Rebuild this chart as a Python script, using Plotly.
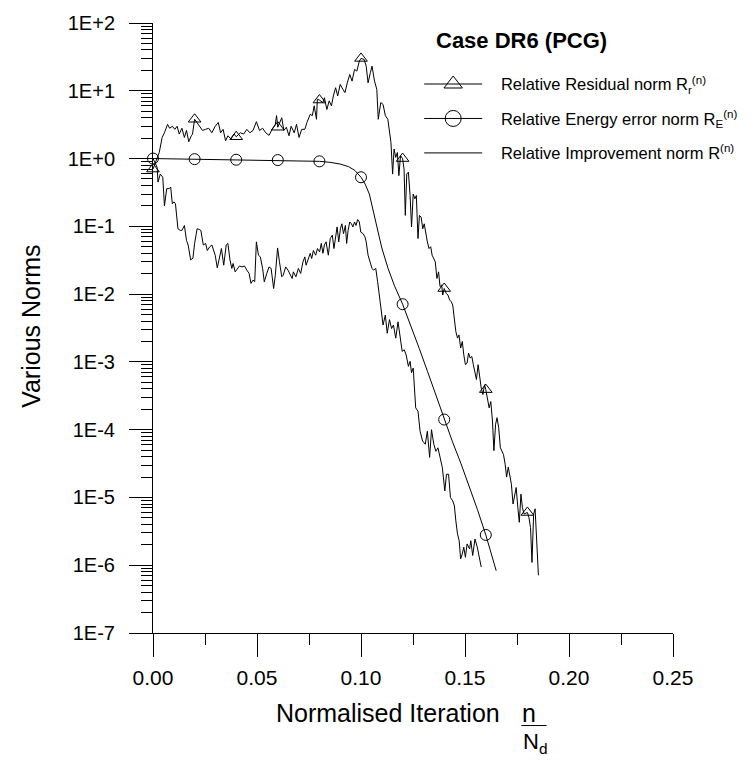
import plotly.graph_objects as go

# ---------------- data ----------------
res_x = [0.000, 0.003, 0.0044, 0.0055, 0.007, 0.008, 0.0093, 0.0105, 0.0116, 0.0126, 0.0139, 0.0151, 0.0161, 0.0172,
         0.0184, 0.019, 0.020, 0.0222, 0.0238, 0.0253, 0.0268, 0.0283, 0.0299, 0.0314, 0.0325, 0.0337, 0.0349, 0.036,
         0.0375, 0.039, 0.040, 0.042, 0.0436, 0.0451, 0.0466, 0.0481, 0.0497, 0.0512, 0.0527, 0.0542, 0.0558, 0.0573,
         0.0588, 0.0594, 0.060, 0.0619, 0.0629, 0.0641, 0.0654, 0.0664, 0.0679, 0.069, 0.0702, 0.0715, 0.073, 0.074,
         0.0756, 0.0766, 0.0775, 0.0786, 0.079, 0.080, 0.0817, 0.0824, 0.0836, 0.0847, 0.0858, 0.0867, 0.0878, 0.0888,
         0.090, 0.0913, 0.0923, 0.0934, 0.0946, 0.0957, 0.0969, 0.098, 0.0992, 0.100, 0.1015, 0.1025, 0.1034, 0.1045,
         0.1053, 0.1065, 0.1076, 0.1083, 0.1095, 0.1106, 0.1117, 0.1129, 0.1137, 0.1144, 0.1152, 0.1159, 0.1167, 0.1175,
         0.1182, 0.119, 0.120, 0.1207, 0.1213, 0.122, 0.1228, 0.1236, 0.1243, 0.1251, 0.1259, 0.1266, 0.1274, 0.1281,
         0.1289, 0.1297, 0.1304, 0.1312, 0.1319, 0.1327, 0.1335, 0.1342, 0.135, 0.1357, 0.1365, 0.1373, 0.138, 0.1388,
         0.1393, 0.140, 0.141, 0.1418, 0.1426, 0.1433, 0.1441, 0.1449, 0.1456, 0.1464, 0.1471, 0.1479, 0.1487, 0.1494,
         0.1502, 0.151, 0.1517, 0.1525, 0.1533, 0.154, 0.1548, 0.1555, 0.1563, 0.1571, 0.1578, 0.1586, 0.1594, 0.160,
         0.1609, 0.1616, 0.1624, 0.1632, 0.1639, 0.1647, 0.1654, 0.1662, 0.167, 0.1677, 0.1685, 0.1693, 0.170, 0.1708,
         0.1715, 0.1723, 0.1731, 0.1738, 0.1746, 0.1754, 0.1761, 0.1769, 0.1776, 0.1784, 0.180, 0.1807, 0.1815, 0.1822,
         0.183, 0.1837, 0.1845, 0.1853]
res_y = [0.70, 1.23, 2.05, 2.4, 3.2, 2.8, 3.0, 2.7, 3.0, 2.3, 2.8, 2.05, 2.6, 1.77,
         2.17, 2.3, 3.8, 3.0, 2.6, 2.7, 2.8, 2.4, 3.0, 3.4, 2.4, 2.7, 1.83, 2.17,
         1.94, 2.3, 2.1, 2.4, 2.3, 2.7, 2.4, 2.6, 3.5, 2.6, 2.8, 2.4, 2.2, 2.7,
         3.2, 4.3, 2.9, 4.0, 2.6, 2.9, 2.17, 3.0, 2.4, 3.2, 2.05, 2.7, 2.7, 3.4,
         4.5, 4.3, 6.0, 3.8, 7.5, 7.3, 6.7, 7.9, 5.3, 7.1, 6.0, 8.4, 11.1, 8.4,
         12.4, 10.5, 9.4, 13.1, 17.4, 13.9, 20.7, 19.5, 27.4, 30.0, 29.0, 23.1, 13.1, 18.5,
         23.1, 13.9, 10.5, 3.8, 6.7, 6.3, 4.3, 3.8, 2.7, 1.73, 0.59, 1.38, 1.04, 1.23,
         0.56, 1.10, 1.0, 0.70, 0.145, 0.59, 0.63, 0.285, 0.098, 0.30, 0.255, 0.285, 0.066, 0.145,
         0.137, 0.092, 0.109, 0.074, 0.059, 0.047, 0.050, 0.0375, 0.0335, 0.030, 0.017, 0.0213, 0.0129, 0.0136,
         0.0097, 0.0121, 0.0102, 0.0097, 0.0082, 0.0078, 0.0069, 3.9e-3, 2.8e-3, 2.24e-3, 2.5e-3, 1.6e-3, 2.0e-3, 1.28e-3,
         9.1e-4, 9.6e-4, 1.35e-3, 1.14e-3, 1.2e-3, 9.1e-4, 7.3e-4, 5.5e-4, 9.1e-4, 6.1e-4, 4.1e-4, 3.3e-4, 4.6e-4, 3.9e-4,
         2.9e-4, 2.1e-4, 2.6e-4, 1.34e-4, 4.9e-5, 1.2e-4, 1.5e-4, 1.07e-4, 5.4e-5, 4.9e-5, 4.3e-5, 3.1e-5, 2.0e-5, 2.8e-5,
         2.0e-5, 1.57e-5, 8.0e-6, 1.0e-5, 1.4e-5, 7.1e-6, 4.3e-6, 1.12e-5, 7.1e-6, 5.7e-6, 6.0e-6, 5.1e-6, 3.6e-6, 1.1e-6,
         5.7e-6, 6.8e-6, 1.85e-6, 7.1e-7]

imp_x = [0.000, 0.002, 0.0024, 0.0035, 0.0047, 0.0055, 0.0066, 0.0078, 0.0085, 0.0093, 0.0101, 0.0108, 0.012, 0.0131,
         0.0139, 0.0151, 0.0161, 0.0169, 0.0181, 0.0192, 0.020, 0.0212, 0.0222, 0.023, 0.0242, 0.0253, 0.0261, 0.0273,
         0.0283, 0.0299, 0.0309, 0.0321, 0.0329, 0.034, 0.0352, 0.036, 0.037, 0.0379, 0.0385, 0.0395, 0.0405, 0.0416,
         0.0428, 0.044, 0.0451, 0.0462, 0.0471, 0.0481, 0.0489, 0.0497, 0.0507, 0.0516, 0.0527, 0.0535, 0.0547, 0.0558,
         0.0568, 0.058, 0.0588, 0.0599, 0.0608, 0.0619, 0.0626, 0.0638, 0.0649, 0.066, 0.0669, 0.0675, 0.0687, 0.0699,
         0.071, 0.0721, 0.073, 0.0736, 0.0745, 0.0756, 0.0763, 0.0771, 0.0782, 0.0791, 0.0801, 0.0809, 0.0817, 0.0824,
         0.0832, 0.0843, 0.0852, 0.0862, 0.087, 0.0878, 0.0885, 0.0893, 0.0901, 0.0908, 0.0916, 0.0925, 0.0931, 0.0938,
         0.0946, 0.0954, 0.0961, 0.0969, 0.0976, 0.0984, 0.0992, 0.0999, 0.101, 0.1019, 0.1025, 0.1034, 0.1045, 0.1053,
         0.106, 0.1071, 0.108, 0.1091, 0.1098, 0.1106, 0.1117, 0.1126, 0.1137, 0.1147, 0.1156, 0.1167, 0.1178, 0.1187,
         0.1198, 0.1208, 0.1217, 0.1228, 0.1236, 0.1243, 0.1251, 0.1263, 0.1274, 0.1284, 0.1296, 0.1309, 0.1319, 0.133,
         0.1339, 0.135, 0.136, 0.137, 0.138, 0.1391, 0.1403, 0.1411, 0.1421, 0.143, 0.1441, 0.1449, 0.1456, 0.1464,
         0.1472, 0.1479, 0.1487, 0.1494, 0.1502, 0.151, 0.1522, 0.1528, 0.1537, 0.1548, 0.1559, 0.1568, 0.1578]
imp_y = [1.0, 0.74, 0.45, 0.59, 0.53, 0.20, 0.36, 0.36, 0.38, 0.215, 0.23, 0.215, 0.092, 0.087,
         0.087, 0.103, 0.062, 0.053, 0.032, 0.034, 0.056, 0.092, 0.090, 0.087, 0.053, 0.056, 0.044, 0.050,
         0.053, 0.0375, 0.0244, 0.0375, 0.047, 0.0267, 0.053, 0.056, 0.032, 0.0239, 0.0283, 0.0213, 0.0239, 0.026,
         0.0252, 0.026, 0.0226, 0.0202, 0.0144, 0.0161, 0.0152, 0.059, 0.0375, 0.0354, 0.0239, 0.0152, 0.0202, 0.0252,
         0.0239, 0.0121, 0.019, 0.048, 0.030, 0.018, 0.019, 0.0252, 0.0226, 0.019, 0.017, 0.0213, 0.018, 0.0239,
         0.0202, 0.030, 0.0354, 0.0267, 0.032, 0.040, 0.0335, 0.044, 0.0375, 0.047, 0.042, 0.056, 0.040, 0.053,
         0.059, 0.0375, 0.066, 0.074, 0.047, 0.078, 0.098, 0.059, 0.092, 0.109, 0.078, 0.103, 0.056, 0.087,
         0.116, 0.109, 0.098, 0.116, 0.103, 0.126, 0.116, 0.082, 0.078, 0.070, 0.059, 0.0375, 0.030, 0.0239,
         0.0226, 0.0239, 0.0152, 0.0077, 0.0050, 3.5e-3, 4.9e-3, 2.65e-3, 4.2e-3, 3.1e-3, 3.5e-3, 2.24e-3, 3.9e-3, 2.65e-3,
         1.43e-3, 1.51e-3, 1.27e-3, 8.6e-4, 1.02e-3, 6.9e-4, 8.1e-4, 2.1e-4, 1.87e-4, 9.5e-5, 6.8e-5, 6.1e-5, 9.5e-5, 3.9e-5,
         1.0e-4, 6.1e-5, 4.8e-5, 5.4e-5, 3.9e-5, 2.76e-5, 1.25e-5, 2.2e-5, 2.2e-5, 1.0e-5, 8.9e-6, 7.5e-6, 4.5e-6, 2.9e-6,
         2.3e-6, 1.24e-6, 1.47e-6, 1.85e-6, 1.31e-6, 2.06e-6, 1.74e-6, 2.3e-6, 1.39e-6, 2.44e-6, 1.85e-6, 1.31e-6, 9.4e-7]

eng_x = [0.000, 0.010, 0.020, 0.030, 0.040, 0.050, 0.060, 0.070, 0.080, 0.085, 0.090, 0.094, 0.097, 0.100, 0.102,
         0.104, 0.106, 0.108, 0.110, 0.113, 0.116, 0.120, 0.124, 0.128, 0.132, 0.136, 0.140, 0.144, 0.148, 0.152,
         0.156, 0.160, 0.163, 0.165]
eng_y = [1.0, 0.99, 0.98, 0.97, 0.96, 0.955, 0.95, 0.935, 0.91, 0.88, 0.83, 0.76, 0.67, 0.53, 0.42,
         0.30, 0.16, 0.085, 0.048, 0.024, 0.0135, 0.0071, 3.4e-3, 1.58e-3, 7.2e-4, 3.2e-4, 1.41e-4, 6.6e-5, 3.2e-5, 1.48e-5,
         6.6e-6, 2.8e-6, 1.41e-6, 8.3e-7]

tri_x = [0.00, 0.02, 0.04, 0.06, 0.08, 0.10, 0.12, 0.14, 0.16, 0.18]
tri_y = [0.70, 3.8, 2.1, 2.9, 7.3, 30.0, 1.0, 0.0121, 3.9e-4, 6.0e-6]
circ_x = [0.00, 0.02, 0.04, 0.06, 0.08, 0.10, 0.12, 0.14, 0.16]
circ_y = [1.0, 0.98, 0.96, 0.95, 0.91, 0.53, 0.0071, 1.41e-4, 2.8e-6]

x_ticks = [0.00, 0.05, 0.10, 0.15, 0.20, 0.25]
x_ticktext = ["0.00", "0.05", "0.10", "0.15", "0.20", "0.25"]
x_minor = [0.025, 0.075, 0.125, 0.175, 0.225]
y_exps = [2, 1, 0, -1, -2, -3, -4, -5, -6, -7]
y_ticktext = ["1E+2", "1E+1", "1E+0", "1E-1", "1E-2", "1E-3", "1E-4", "1E-5", "1E-6", "1E-7"]

legend_names = ["Relative Residual norm R<sub>r</sub><sup>(n)</sup>",
                "Relative Energy error norm R<sub>E</sub><sup>(n)</sup>",
                "Relative Improvement norm R<sup>(n)</sup>"]
chart_title = "<b>Case DR6 (PCG)</b>"

# ---------------- figure ----------------
FONT = "Liberation Sans, Arial, sans-serif"
BLK = "black"
GAP = "\u00a0\u00a0\u00a0"
fig = go.Figure()

fig.add_trace(go.Scatter(x=res_x, y=res_y, mode="lines", line=dict(color=BLK, width=1), showlegend=False))
fig.add_trace(go.Scatter(x=eng_x, y=eng_y, mode="lines", line=dict(color=BLK, width=1), showlegend=False))
fig.add_trace(go.Scatter(x=imp_x, y=imp_y, mode="lines", line=dict(color=BLK, width=1), showlegend=False))
fig.add_trace(go.Scatter(x=tri_x, y=tri_y, mode="markers", cliponaxis=False, showlegend=False,
                         marker=dict(symbol="triangle-up-open", size=11, color=BLK, line=dict(width=1, color=BLK))))
fig.add_trace(go.Scatter(x=circ_x, y=circ_y, mode="markers", cliponaxis=False, showlegend=False,
                         marker=dict(symbol="circle-open", size=11, color=BLK, line=dict(width=1, color=BLK))))

# legend entries
fig.add_trace(go.Scatter(x=[None], y=[None], mode="lines+markers", name=GAP + legend_names[0], legendgroup="a",
                         line=dict(color=BLK, width=1),
                         marker=dict(symbol="triangle-up-open", size=16, color=BLK, line=dict(width=1, color=BLK))))
fig.add_trace(go.Scatter(x=[None], y=[None], mode="lines+markers", name=GAP + legend_names[1], legendgroup="b",
                         line=dict(color=BLK, width=1),
                         marker=dict(symbol="circle-open", size=16, color=BLK, line=dict(width=1, color=BLK))))
fig.add_trace(go.Scatter(x=[None], y=[None], mode="lines", name=GAP + legend_names[2], legendgroup="c",
                         line=dict(color=BLK, width=1)))

L, R, T, B = 153, 55, 20, 129
W, H = 755, 762
PW, PH = W - L - R, H - T - B


def px(xp):
    return (xp - L) / PW


def py(yp):
    return (H - B - yp) / PH


fig.update_layout(
    width=W, height=H,
    margin=dict(l=L, r=R, t=T, b=B, pad=0),
    paper_bgcolor="white", plot_bgcolor="white",
    font=dict(family=FONT, color=BLK),
    legend=dict(x=px(433), y=py(64), xanchor="left", yanchor="top",
                bgcolor="rgba(0,0,0,0)", font=dict(size=16.5, family=FONT, color=BLK),
                traceorder="grouped", tracegroupgap=10, itemwidth=58, itemsizing="trace"),
    xaxis=dict(range=[0, 0.25], tickmode="array", tickvals=x_ticks, ticktext=x_ticktext,
               ticks="outside", ticklen=23, tickwidth=1, tickcolor=BLK,
               showline=True, linecolor=BLK, linewidth=1, showgrid=False, zeroline=False,
               tickfont=dict(size=21, family=FONT, color=BLK), ticklabelstandoff=3,
               minor=dict(tickmode="array", tickvals=x_minor, ticks="outside", ticklen=11,
                          tickwidth=1, tickcolor=BLK, showgrid=False)),
    yaxis=dict(type="log", range=[-7, 2], tickmode="array", tickvals=[10.0 ** e for e in y_exps],
               ticktext=y_ticktext, ticks="outside", ticklen=23, tickwidth=1, tickcolor=BLK,
               showline=True, linecolor=BLK, linewidth=1, showgrid=False, zeroline=False,
               tickfont=dict(size=20, family=FONT, color=BLK), ticklabelstandoff=10,
               minor=dict(tickmode="array",
                          tickvals=[k * 10.0 ** e for e in range(-7, 2) for k in range(2, 10)],
                          ticks="outside", ticklen=11, tickwidth=1, tickcolor=BLK, showgrid=False)),
)

fig.add_annotation(text=chart_title, xref="paper", yref="paper", x=px(449), y=py(38),
                   xanchor="left", yanchor="middle", showarrow=False, font=dict(size=22, family=FONT, color=BLK))
fig.add_annotation(text="Various Norms", xref="paper", yref="paper", x=px(24), y=py(325),
                   xanchor="center", yanchor="middle", textangle=-90, showarrow=False,
                   font=dict(size=25, family=FONT, color=BLK))
fig.add_annotation(text="Normalised Iteration", xref="paper", yref="paper", x=px(400), y=py(713),
                   xanchor="center", yanchor="middle", showarrow=False, font=dict(size=25, family=FONT, color=BLK))
fig.add_annotation(text="n", xref="paper", yref="paper", x=px(548), y=py(713),
                   xanchor="center", yanchor="middle", showarrow=False, font=dict(size=25, family=FONT, color=BLK))
fig.add_annotation(text="N<sub>d</sub>", xref="paper", yref="paper", x=px(555), y=py(744),
                   xanchor="center", yanchor="middle", showarrow=False, font=dict(size=22, family=FONT, color=BLK))
fig.add_shape(type="line", xref="paper", yref="paper", x0=px(540.5), x1=px(567), y0=py(726), y1=py(726),
              line=dict(color=BLK, width=1))

fig.write_html("out.html")
